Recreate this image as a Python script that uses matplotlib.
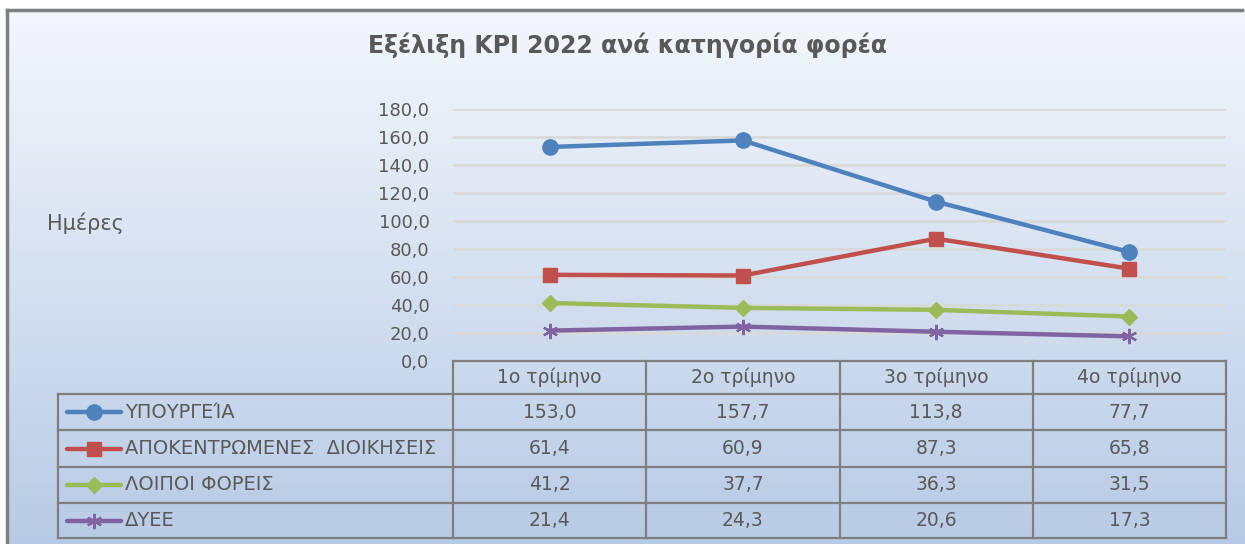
import matplotlib
matplotlib.use('Agg')
import matplotlib.pyplot as plt
import numpy as np

plt.rcParams['font.family'] = ['DejaVu Sans']

quarters = ['1ο τρίμηνο', '2ο τρίμηνο', '3ο τρίμηνο', '4ο τρίμηνο']
series_names = ['ΥΠΟΥΡΓΕΊΑ', 'ΑΠΟΚΕΝΤΡΩΜΕΝΕΣ  ΔΙΟΙΚΗΣΕΙΣ', 'ΛΟΙΠΟΙ ΦΟΡΕΙΣ', 'ΔΥΕΕ']
ministries = [153.0, 157.7, 113.8, 77.7]
decentralized = [61.4, 60.9, 87.3, 65.8]
other_bodies = [41.2, 37.7, 36.3, 31.5]
dyee = [21.4, 24.3, 20.6, 17.3]
yticks = [0, 20, 40, 60, 80, 100, 120, 140, 160, 180]

values = [ministries, decentralized, other_bodies, dyee]
colors = ['#4f81bd', '#c0504d', '#9bbb59', '#8064a2']
markers = ['o', 's', 'D', (6, 2, 0)]
msizes = [11, 10.5, 8.5, 11]
text_col = '#595959'
grid_col = '#7f7f7f'

W, H = 1245, 544
fig = plt.figure(figsize=(W / 100, H / 100), dpi=100)
fig.patch.set_facecolor('white')

# background gradient, pixel coordinates
bg = fig.add_axes([0, 0, 1, 1])
top = np.array([243, 247, 252]) / 255
bot = np.array([180, 200, 228]) / 255
t = np.linspace(0, 1, 256)[:, None]
grad = np.repeat((top[None, :] * (1 - t) + bot[None, :] * t)[:, None, :], 4, axis=1)
bg.imshow(grad, extent=[7, W + 30, H + 30, 10], aspect='auto', zorder=0,
          interpolation='bilinear')
bg.set_xlim(0, W)
bg.set_ylim(H, 0)
bg.axis('off')
bg.plot([7, 7], [10, H + 5], color='#7f7f7f', lw=2.5, zorder=1)
bg.plot([7, W - 3], [10, 10], color='#7f7f7f', lw=2.5, zorder=1)

bg.text(628, 45, 'Εξέλιξη KPI 2022 ανά κατηγορία φορέα', ha='center', va='center',
        fontsize=17, fontweight='bold', color=text_col)
bg.text(47, 223, 'Ημέρες', ha='left', va='center', fontsize=15, color=text_col)

# main plot area
x0, x1, y_top, y_bot = 453, 1226, 109.3, 360.5
ax = fig.add_axes([x0 / W, 1 - y_bot / H, (x1 - x0) / W, (y_bot - y_top) / H])
ax.set_facecolor('none')
for s in ax.spines.values():
    s.set_visible(False)
ax.set_xlim(-0.5, 3.5)
ax.set_ylim(0, 180)
ax.set_yticks(yticks)
ax.set_yticklabels([f'{v:.1f}'.replace('.', ',') for v in yticks], fontsize=13, color=text_col)
ax.tick_params(axis='y', length=0, pad=17)
ax.set_xticks([])
for v in yticks[1:]:
    ax.axhline(v, color='#d9d9d9', lw=2, zorder=1)

xs = np.arange(len(quarters))
for vals, c, m, ms in zip(values, colors, markers, msizes):
    ax.plot(xs, vals, color=c, lw=3.2, marker=m, markersize=ms, markerfacecolor=c,
            markeredgecolor=c, markeredgewidth=1.6 if m == (6, 2, 0) else 1, zorder=3,
            clip_on=False)

# data table
col_w = (x1 - x0) / len(quarters)
col_edges = [x0 + i * col_w for i in range(len(quarters) + 1)]
row_edges = [394, 430, 467, 503, 538]
head_top = 361
tl = 58
lw_t = 1.6
bg.plot([x0, x1], [head_top, head_top], color=grid_col, lw=lw_t, zorder=2)
for y in row_edges:
    bg.plot([tl, x1], [y, y], color=grid_col, lw=lw_t, zorder=2)
bg.plot([tl, tl], [row_edges[0], row_edges[-1]], color=grid_col, lw=lw_t, zorder=2)
for x in col_edges:
    bg.plot([x, x], [head_top, row_edges[-1]], color=grid_col, lw=lw_t, zorder=2)

for i, q in enumerate(quarters):
    cx = (col_edges[i] + col_edges[i + 1]) / 2
    bg.text(cx, (head_top + row_edges[0]) / 2, q, ha='center', va='center',
            fontsize=13.5, color=text_col, zorder=3)

for r, (name, vals, c, m, ms) in enumerate(zip(series_names, values, colors, markers, msizes)):
    cy = (row_edges[r] + row_edges[r + 1]) / 2
    bg.plot([67, 121], [cy, cy], color=c, lw=3.2, zorder=3, solid_capstyle='round')
    bg.plot([94], [cy], marker=m, markersize=ms, color=c,
            markeredgewidth=1.6 if m == (6, 2, 0) else 1, zorder=4)
    bg.text(125, cy, name, ha='left', va='center', fontsize=14, color=text_col, zorder=3)
    for i, v in enumerate(vals):
        cx = (col_edges[i] + col_edges[i + 1]) / 2
        bg.text(cx, cy, f'{v:.1f}'.replace('.', ','), ha='center', va='center',
                fontsize=13.5, color=text_col, zorder=3)

fig.savefig('out.png', dpi=100)
